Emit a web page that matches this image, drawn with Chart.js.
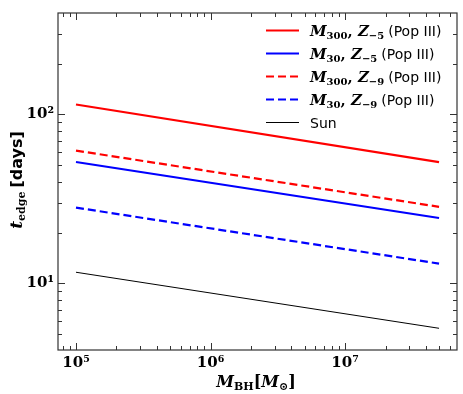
<!DOCTYPE html>
<html>
<head>
<meta charset="utf-8">
<script src="https://cdn.jsdelivr.net/npm/chart.js@4.4.1/dist/chart.umd.min.js"></script>
<style>
  html, body { margin: 0; padding: 0; background: #fff; }
  canvas { display: block; }
</style>
</head>
<body>
<canvas id="chart" width="463" height="394"></canvas>
<script>
// black hole mass [Msun]
const massBH = [1e5, 5e7];
// t_edge [days] for each model
const m300z5 = [114.5, 52.2];
const m30z5 = [52.3, 24.4];
const m300z9 = [61.1, 28.4];
const m30z9 = [28.1, 13.1];
const sun = [11.65, 5.43];

const xTicks = [1e5, 1e6, 1e7];
const yTicks = [10, 100];
const supDigits = { '1': '¹', '2': '²', '5': '⁵', '6': '⁶', '7': '⁷' };

const SERIF = '"DejaVu Serif", serif';
const SANS = '"DejaVu Sans", sans-serif';

function pts(ys) {
    return massBH.map((x, i) => ({ x: x, y: ys[i] }));
}

// legend + axis titles drawn as little mathtext runs
const legendItems = [
    { color: '#ff0000', dash: [], width: 2.2, m: '300', z: '−5' },
    { color: '#0000ff', dash: [], width: 2.2, m: '30', z: '−5' },
    { color: '#ff0000', dash: [8, 4], width: 2.2, m: '300', z: '−9' },
    { color: '#0000ff', dash: [8, 4], width: 2.2, m: '30', z: '−9' },
    { color: '#000000', dash: [], width: 1, sun: true }
];

function drawRun(ctx, segs, x, y, align) {
    let total = 0;
    segs.forEach(s => { ctx.font = s.f; total += ctx.measureText(s.t).width + (s.gap || 0); });
    let cx = align === 'center' ? x - total / 2 : x;
    ctx.textBaseline = 'alphabetic';
    ctx.textAlign = 'left';
    segs.forEach(s => {
        ctx.font = s.f;
        ctx.fillText(s.t, cx, y + (s.dy || 0));
        cx += ctx.measureText(s.t).width + (s.gap || 0);
    });
}

const decor = {
    id: 'decor',
    afterDraw(chart) {
        const ctx = chart.ctx;
        const a = chart.chartArea;
        const xs = chart.scales.x, ys = chart.scales.y;
        ctx.save();
        ctx.strokeStyle = '#333';
        ctx.lineWidth = 1.2;
        ctx.strokeRect(a.left, a.top, a.right - a.left, a.bottom - a.top);

        // inward ticks on all four sides
        ctx.lineWidth = 1;
        const tick = (px, len, vertical) => {
            ctx.beginPath();
            if (vertical) {
                ctx.moveTo(px, a.bottom); ctx.lineTo(px, a.bottom - len);
                ctx.moveTo(px, a.top); ctx.lineTo(px, a.top + len);
            } else {
                ctx.moveTo(a.left, px); ctx.lineTo(a.left + len, px);
                ctx.moveTo(a.right, px); ctx.lineTo(a.right - len, px);
            }
            ctx.stroke();
        };
        for (let e = 4; e <= 7; e++) {
            for (let k = 1; k <= 9; k++) {
                const v = k * Math.pow(10, e);
                if (v < xs.min || v > xs.max) continue;
                tick(Math.round(xs.getPixelForValue(v)) + 0.5, k === 1 ? 7 : 4, true);
            }
        }
        for (let e = 0; e <= 2; e++) {
            for (let k = 1; k <= 9; k++) {
                const v = k * Math.pow(10, e);
                if (v < ys.min || v > ys.max) continue;
                tick(Math.round(ys.getPixelForValue(v)) + 0.5, k === 1 ? 7 : 4, false);
            }
        }

        // legend
        ctx.fillStyle = '#000';
        legendItems.forEach((it, i) => {
            const y = 30.5 + i * 23;
            ctx.strokeStyle = it.color;
            ctx.lineWidth = it.width;
            ctx.setLineDash(it.dash);
            ctx.beginPath();
            ctx.moveTo(266, y); ctx.lineTo(299, y);
            ctx.stroke();
            ctx.setLineDash([]);
            if (it.sun) {
                drawRun(ctx, [{ t: 'Sun', f: '14px ' + SANS }], 310, y + 5);
            } else {
                drawRun(ctx, [
                    { t: 'M', f: 'bold italic 15px ' + SERIF },
                    { t: it.m, f: 'bold 10px ' + SERIF, dy: 3 },
                    { t: ', ', f: 'bold 15px ' + SERIF },
                    { t: 'Z', f: 'bold italic 15px ' + SERIF },
                    { t: it.z, f: 'bold 10px ' + SERIF, dy: 3, gap: 4 },
                    { t: '(Pop III)', f: '14px ' + SANS }
                ], 310, y + 5);
            }
        });

        // x title
        drawRun(ctx, [
            { t: 'M', f: 'bold italic 16px ' + SERIF },
            { t: 'BH', f: 'bold 11px ' + SERIF, dy: 3 },
            { t: '[', f: 'bold 16px ' + SERIF },
            { t: 'M', f: 'bold italic 16px ' + SERIF },
            { t: '⊙', f: 'bold 11px ' + SERIF, dy: 3 },
            { t: ']', f: 'bold 16px ' + SERIF }
        ], 256, 387, 'center');

        // y title
        ctx.translate(22, 180);
        ctx.rotate(-Math.PI / 2);
        drawRun(ctx, [
            { t: 't', f: 'bold italic 17px ' + SERIF },
            { t: 'edge', f: 'bold 11px ' + SERIF, dy: 3, gap: 4 },
            { t: '[days]', f: 'bold 16px ' + SANS }
        ], 0, 0, 'center');
        ctx.restore();
    }
};

function series(ys, color, dash, width) {
    return {
        data: pts(ys),
        showLine: true,
        borderColor: color,
        borderWidth: width,
        borderDash: dash,
        pointRadius: 0,
        fill: false
    };
}

new Chart(document.getElementById('chart'), {
    type: 'scatter',
    data: {
        datasets: [
            series(m300z5, '#ff0000', [], 2.2),
            series(m30z5, '#0000ff', [], 2.2),
            series(m300z9, '#ff0000', [8, 4], 2.2),
            series(m30z9, '#0000ff', [8, 4], 2.2),
            series(sun, '#000000', [], 1)
        ]
    },
    options: {
        responsive: false,
        animation: false,
        devicePixelRatio: 1,
        layout: { padding: { top: 11, right: 6, left: 0, bottom: 0 } },
        plugins: { legend: { display: false }, tooltip: { enabled: false } },
        scales: {
            x: {
                type: 'logarithmic',
                min: 7.35e4,
                max: 6.8e7,
                grid: { display: false, drawTicks: false },
                border: { display: false },
                afterBuildTicks: s => { s.ticks = xTicks.map(v => ({ value: v })); },
                afterFit: s => { s.height = 44; },
                ticks: {
                    autoSkip: false,
                    maxRotation: 0,
                    padding: 4,
                    color: '#000',
                    font: { family: SERIF, size: 15, weight: 'bold' },
                    callback: v => '10' + supDigits[String(Math.round(Math.log10(v)))]
                }
            },
            y: {
                type: 'logarithmic',
                min: 4.04,
                max: 398,
                grid: { display: false, drawTicks: false },
                border: { display: false },
                afterBuildTicks: s => { s.ticks = yTicks.map(v => ({ value: v })); },
                afterFit: s => { s.width = 58; },
                ticks: {
                    autoSkip: false,
                    padding: 4,
                    color: '#000',
                    font: { family: SERIF, size: 15, weight: 'bold' },
                    callback: v => '10' + supDigits[String(Math.round(Math.log10(v)))]
                }
            }
        }
    },
    plugins: [decor]
});
</script>
</body>
</html>
